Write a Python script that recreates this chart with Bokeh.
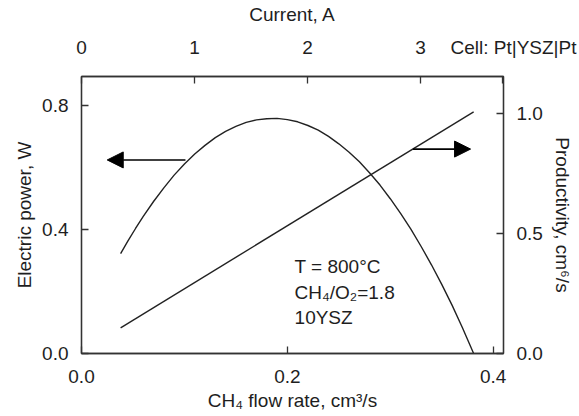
from bokeh.plotting import figure
from bokeh.models import Range1d, LinearAxis, FixedTicker, Label, Arrow, NormalHead, PrintfTickFormatter
from bokeh.embed import file_html
from bokeh.resources import INLINE

# data
flow_power = [0.038, 0.045, 0.0525, 0.06, 0.07, 0.08, 0.09, 0.10, 0.11, 0.12, 0.13, 0.14, 0.15,
              0.16, 0.17, 0.18, 0.19, 0.20, 0.21, 0.22, 0.23, 0.24, 0.25, 0.26, 0.27, 0.28,
              0.29, 0.30, 0.31, 0.32, 0.33, 0.34, 0.35, 0.36, 0.37, 0.381]
power_w = [0.322, 0.362, 0.403, 0.442, 0.490, 0.534, 0.575, 0.611, 0.643, 0.671, 0.696, 0.716, 0.732,
           0.745, 0.753, 0.757, 0.758, 0.754, 0.747, 0.735, 0.720, 0.700, 0.676, 0.649, 0.618, 0.582,
           0.543, 0.499, 0.452, 0.401, 0.345, 0.286, 0.223, 0.156, 0.084, 0.0]
flow_prod = [0.038, 0.381]
productivity = [0.107, 1.006]

bottom_ticks = [0.0, 0.2, 0.4]
left_ticks = [0.0, 0.4, 0.8]
right_ticks = [0.0, 0.5, 1.0]
top_ticks = [0, 1, 2, 3]

x_lim = (0.0, 0.41)
y_left_lim = (0.0, 0.893)
y_right_lim = (0.0, 1.153)
current_lim = (0.0, 3.735)

arrow_left = dict(x_start=0.101, x_end=0.025, y=0.624)
arrow_right = dict(x_start=0.322, x_end=0.378, y=0.659)

notes = ["T = 800°C", "CH₄/O₂=1.8", "10YSZ"]
notes_x = 0.207
notes_y = [0.282, 0.198, 0.115]
cell_note = "Cell: Pt|YSZ|Pt"
cell_note_pos = 3.73  # placed in the top axis label row, right of the "3" label

FONT = "Liberation Sans"
TXT = "#1e1e1e"
LINE = "#222222"
FS = "19px"

p = figure(width=579, height=416, output_backend="svg", toolbar_location=None,
           x_range=Range1d(*x_lim), y_range=Range1d(*y_left_lim),
           min_border_left=81, min_border_right=76, min_border_top=74, min_border_bottom=63,
           x_axis_location=None, y_axis_location=None)
p.extra_y_ranges = {"prod": Range1d(*y_right_lim)}
p.extra_x_ranges = {"cur": Range1d(*current_lim)}
p.grid.visible = False
p.outline_line_color = "#333333"
p.outline_line_width = 1.3
p.background_fill_color = "white"
p.border_fill_color = "white"


def style(ax, ticks, fmt, label, lstand=12, astand=4):
    ax.ticker = FixedTicker(ticks=ticks)
    ax.formatter = PrintfTickFormatter(format=fmt)
    ax.axis_label = label
    ax.axis_label_text_font = FONT
    ax.axis_label_text_font_style = "normal"
    ax.axis_label_text_font_size = FS
    ax.axis_label_text_color = TXT
    ax.major_label_text_font = FONT
    ax.major_label_text_font_size = FS
    ax.major_label_text_color = TXT
    ax.major_tick_in = 7
    ax.major_tick_out = 0
    ax.minor_tick_line_color = None
    ax.major_tick_line_color = "#333333"
    ax.major_tick_line_width = 1.3
    ax.axis_line_color = "#333333"
    ax.axis_line_width = 1.3
    ax.major_label_standoff = lstand
    ax.axis_label_standoff = astand


bx = LinearAxis()
style(bx, bottom_ticks, "%.1f", "CH₄ flow rate, cm³/s", 16, 4)
p.add_layout(bx, "below")

ly = LinearAxis()
style(ly, left_ticks, "%.1f", "Electric power, W", 13, 4)
p.add_layout(ly, "left")

ry = LinearAxis(y_range_name="prod")
style(ry, right_ticks, "%.1f", "Productivity, cm⁶/s", 13, 6)
p.add_layout(ry, "right")

tx = LinearAxis(x_range_name="cur")
style(tx, top_ticks + [cell_note_pos], "%d", "Current, A", 19, 9)
tx.major_label_overrides = {cell_note_pos: "\u00a0\u00a0\u00a0\u00a0" + cell_note}
p.add_layout(tx, "above")

p.line(flow_power, power_w, line_color=LINE, line_width=1.4)
p.line(flow_prod, productivity, line_color=LINE, line_width=1.4, y_range_name="prod")

for a in (arrow_left, arrow_right):
    p.add_layout(Arrow(x_start=a["x_start"], y_start=a["y"], x_end=a["x_end"], y_end=a["y"],
                       line_color="black", line_width=1.6,
                       end=NormalHead(size=16, fill_color="black", line_color="black")))

for t, yy in zip(notes, notes_y):
    p.add_layout(Label(x=notes_x, y=yy, text=t, text_font=FONT, text_font_size=FS,
                       text_color=TXT, text_baseline="middle"))

open("out.html", "w").write(file_html(p, INLINE))
